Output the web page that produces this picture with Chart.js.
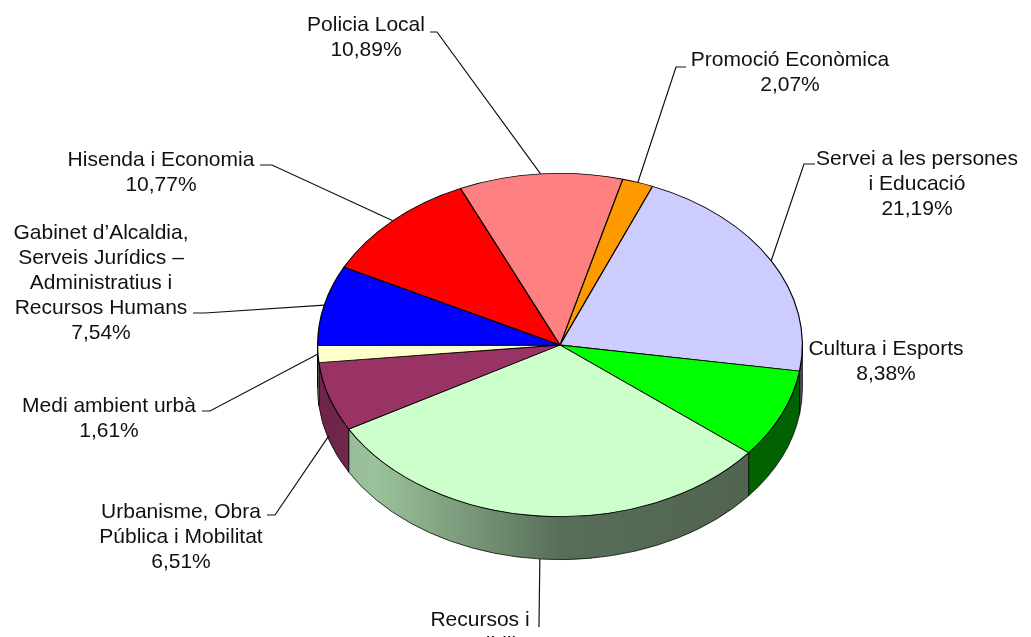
<!DOCTYPE html>
<html lang="ca">
<head>
<meta charset="UTF-8">
<title>Distribució del pressupost per àrees</title>
<script src="https://cdn.jsdelivr.net/npm/chart.js"></script>
<style>
  * { margin: 0; padding: 0; box-sizing: border-box; }
  body { background: #fff; width: 1031px; height: 637px; overflow: hidden; }
  .wrap { position: relative; width: 1031px; height: 637px; }
</style>
</head>
<body>
<div class="wrap"><canvas id="pie" width="1031" height="637"></canvas></div>
<script>
// slices, clockwise from the top
const areaNames = [
  ['Promoció Econòmica'],
  ['Servei a les persones', 'i Educació'],
  ['Cultura i Esports'],
  ['Recursos i', 'Sostenibilitat'],
  ['Urbanisme, Obra', 'Pública i Mobilitat'],
  ['Medi ambient urbà'],
  ['Gabinet d’Alcaldia,', 'Serveis Jurídics –', 'Administratius i', 'Recursos Humans'],
  ['Hisenda i Economia'],
  ['Policia Local']
];
const percents = [2.07, 21.19, 8.38, 31.04, 6.51, 1.61, 7.54, 10.77, 10.89];
const sliceColors = ['#ff9900', '#ccccff', '#00ff00', '#ccffcc', '#993366', '#ffffcc', '#0000ff', '#ff0000', '#ff8080'];

// look of the 3d pie
const TILT = 0.708;   // vertical squash of the disc
const DEPTH = 43;     // thickness in px
const FONT = '21px "Liberation Sans", Arial, sans-serif';
const LINE_H = 25;

// where each label sits (text centre, first line) and where its leader line bends
const labelLayout = [
  { x: 790, y: 60,  elbow: [676, 67],  tick: 10 },
  { x: 917, y: 159, elbow: [804, 164], tick: 11 },
  { x: 886, y: 349, elbow: null },
  { x: 480, y: 620, elbow: [539, 627], tick: 0, drop: 1 },
  { x: 181, y: 512, elbow: [275, 515], tick: -8, drop: 0.9 },
  { x: 109, y: 406, elbow: [210, 411], tick: -8 },
  { x: 101, y: 233, elbow: [205, 313], tick: -12 },
  { x: 161, y: 160, elbow: [272, 165], tick: -12 },
  { x: 366, y: 25,  elbow: [437, 32],  tick: -7 }
];

function shade(hex, f) {
  const n = parseInt(hex.slice(1), 16);
  const r = Math.round(((n >> 16) & 255) * f);
  const g = Math.round(((n >> 8) & 255) * f);
  const b = Math.round((n & 255) * f);
  return `rgb(${r},${g},${b})`;
}

const tiltPlugin = {
  id: 'tilt',
  beforeDatasetsDraw(chart) {
    const ctx = chart.ctx;
    const arcs = chart.getDatasetMeta(0).data;
    const cx = arcs[0].x, cy = arcs[0].y, R = arcs[0].outerRadius;
    const ry = R * TILT;

    // walls of the front half
    arcs.forEach((arc, i) => {
      const a1 = arc.startAngle, a2 = arc.endAngle;
      for (let n = -1; n <= 2; n++) {
        const lo = Math.max(a1, 2 * Math.PI * n);
        const hi = Math.min(a2, 2 * Math.PI * n + Math.PI);
        if (lo >= hi) continue;
        const grad = ctx.createLinearGradient(cx - R, 0, cx + R, 0);
        const c = sliceColors[i];
        grad.addColorStop(0, shade(c, 0.72));
        grad.addColorStop(0.12, shade(c, 0.76));
        grad.addColorStop(0.5, shade(c, 0.43));
        grad.addColorStop(1, shade(c, 0.38));
        ctx.save();
        ctx.beginPath();
        ctx.ellipse(cx, cy, R, ry, 0, lo, hi);
        ctx.lineTo(cx + R * Math.cos(hi), cy + ry * Math.sin(hi) + DEPTH);
        ctx.ellipse(cx, cy + DEPTH, R, ry, 0, hi, lo, true);
        ctx.closePath();
        ctx.fillStyle = grad;
        ctx.fill();
        ctx.strokeStyle = 'rgba(0,0,0,0.75)';
        ctx.lineWidth = 1;
        ctx.stroke();
        ctx.restore();
      }
    });

    // squash the top face the library draws next
    ctx.save();
    ctx.translate(0, cy);
    ctx.scale(1, TILT);
    ctx.translate(0, -cy);
  },
  afterDatasetsDraw(chart) {
    chart.ctx.restore();
  },
  afterDraw(chart) {
    const ctx = chart.ctx;
    const arcs = chart.getDatasetMeta(0).data;
    const values = chart.data.datasets[0].data;
    ctx.save();
    ctx.font = FONT;
    ctx.fillStyle = '#111';
    ctx.textAlign = 'center';
    ctx.textBaseline = 'middle';
    ctx.strokeStyle = '#111';
    ctx.lineWidth = 1.2;
    arcs.forEach((arc, i) => {
      const lay = labelLayout[i];
      const lines = areaNames[i].concat([values[i].toFixed(2).replace('.', ',') + '%']);
      lines.forEach((t, j) => ctx.fillText(t, lay.x, lay.y + j * LINE_H));
      if (!lay.elbow) return;
      const mid = (arc.startAngle + arc.endAngle) / 2;
      const px = arc.x + arc.outerRadius * Math.cos(mid);
      const py = arc.y + arc.outerRadius * TILT * Math.sin(mid) + DEPTH * (lay.drop || 0);
      ctx.beginPath();
      ctx.moveTo(px, py);
      ctx.lineTo(lay.elbow[0], lay.elbow[1]);
      ctx.lineTo(lay.elbow[0] + lay.tick, lay.elbow[1]);
      ctx.stroke();
    });
    ctx.restore();
  }
};

new Chart(document.getElementById('pie'), {
  type: 'pie',
  data: {
    labels: areaNames.map(n => n.join(' ')),
    datasets: [{
      data: percents,
      backgroundColor: sliceColors,
      borderColor: '#000',
      borderWidth: 1.2,
      clip: false
    }]
  },
  options: {
    responsive: false,
    animation: false,
    rotation: 15,
    layout: { padding: { left: 317, right: 228, top: 102, bottom: 49 } },
    plugins: {
      legend: { display: false },
      tooltip: { enabled: false }
    }
  },
  plugins: [tiltPlugin]
});
</script>
</body>
</html>
